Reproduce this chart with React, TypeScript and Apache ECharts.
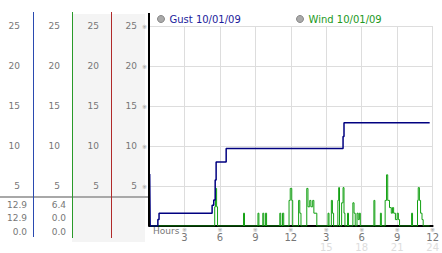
import React, { useEffect, useRef } from "react";
import * as echarts from "echarts";

const FONT = "DejaVu Sans, Noto Sans CJK JP, sans-serif";

const seriesNames = ["Gust 10/01/09", "Wind 10/01/09"];

// [hour, mph] change points (step line)
const gustData: [number, number][] = [
  [0.04, 0], [0.06, 6.5], [0.1, 0], [0.75, 0.8], [0.85, 1.6],
  [5.34, 2.6], [5.48, 3.25], [5.6, 5.75], [5.68, 8.0], [6.53, 9.7],
  [16.42, 11.2], [16.5, 12.9], [23.75, 12.9],
];

const windData: [number, number][] = [
  [0.1, 0], [5.56, 2.4], [5.63, 4.7], [5.72, 2.4], [5.8, 0],
  [8.0, 1.6], [8.08, 0],
  [9.22, 1.6], [9.3, 0],
  [9.63, 1.6], [9.71, 0],
  [9.85, 1.6], [9.95, 0],
  [11.07, 1.6], [11.15, 0],
  [11.3, 1.6], [11.4, 0],
  [11.85, 3.2], [11.95, 4.7], [12.08, 3.2], [12.16, 0],
  [12.66, 3.2], [12.76, 1.6], [12.86, 0],
  [13.35, 4.7], [13.45, 2.4], [13.6, 3.2], [13.7, 2.4], [13.85, 3.2], [13.95, 1.6], [14.2, 0],
  [15.15, 1.6], [15.23, 0],
  [15.43, 3.2], [15.52, 1.6], [15.62, 0],
  [15.98, 3.2], [16.05, 4.8], [16.12, 0],
  [16.3, 2.9], [16.42, 4.8], [16.5, 1.6], [16.58, 0],
  [16.8, 1.6], [16.88, 0],
  [17.25, 2.9], [17.35, 1.6], [17.45, 0],
  [17.6, 1.6], [17.7, 0.8], [17.8, 1.6], [17.88, 0],
  [19.03, 3.2], [19.11, 0],
  [19.58, 1.6], [19.66, 0],
  [19.98, 3.2], [20.1, 6.4], [20.2, 3.2], [20.35, 2.3], [20.5, 1.6], [20.6, 2.3],
  [20.7, 1.6], [20.85, 0.8], [21.0, 1.6], [21.1, 0.8], [21.2, 0],
  [22.22, 1.6], [22.3, 0],
  [22.72, 3.2], [22.78, 4.8], [22.88, 3.2], [22.98, 1.6], [23.1, 0.8], [23.2, 0],
  [23.75, 0],
];

const gustStats = [12.9, 12.9, 0.0];
const windStats = [6.4, 0.0, 0.0];
const statRowsY = [205, 218, 232];

const X_MIN = 0, X_MAX = 24, X_STEP = 3;
const Y_MIN = 0, Y_MAX = 25, Y_STEP = 5;

const panelOffsets = [129, 89, 50, 12];

export default function App() {
  const ref = useRef<HTMLDivElement>(null);
  useEffect(() => {
    if (!ref.current) return;
    const chart = echarts.init(ref.current, null, { renderer: "svg" });

    const extraY = panelOffsets.map((off) => ({
      type: "value" as const,
      min: Y_MIN,
      max: Y_MAX,
      interval: Y_STEP,
      position: "left" as const,
      offset: off,
      axisLine: { show: false },
      axisTick: { show: false },
      splitLine: { show: false },
      axisLabel: {
        margin: 0,
        color: "#777",
        fontSize: 9,
        fontFamily: FONT,
        formatter: (v: number) => (v === 0 ? "" : String(v)),
      },
    }));

    const statTexts: any[] = [];
    statRowsY.forEach((y, i) => {
      statTexts.push({
        type: "text", x: 27, y,
        style: { text: gustStats[i].toFixed(1), fill: "#777", font: `9px ${FONT}`, align: "right", verticalAlign: "middle" },
      });
      statTexts.push({
        type: "text", x: 66, y,
        style: { text: windStats[i].toFixed(1), fill: "#777", font: `9px ${FONT}`, align: "right", verticalAlign: "middle" },
      });
    });

    const legendIcon = { color: "#aaa", borderColor: "#888", borderWidth: 1 };

    chart.setOption({
      animation: false,
      textStyle: { fontFamily: FONT },
      grid: { left: 149, right: 4, top: 26, bottom: 27 },
      legend: [
        {
          left: 157, top: 14, padding: 0, itemWidth: 7, itemHeight: 7,
          selectedMode: false,
          data: [{ name: seriesNames[0], icon: "circle", itemStyle: legendIcon, textStyle: { color: "#1c1c9c" } }],
          textStyle: { fontSize: 10, fontFamily: FONT },
        },
        {
          left: 296, top: 14, padding: 0, itemWidth: 7, itemHeight: 7,
          selectedMode: false,
          data: [{ name: seriesNames[1], icon: "circle", itemStyle: legendIcon, textStyle: { color: "#229922" } }],
          textStyle: { fontSize: 10, fontFamily: FONT },
        },
      ],
      xAxis: {
        type: "value",
        min: X_MIN,
        max: X_MAX,
        interval: X_STEP,
        axisLine: { show: true, lineStyle: { color: "#000", width: 2 } },
        axisTick: { show: false },
        splitLine: { show: true, lineStyle: { color: "#ddd", width: 1 } },
        axisLabel: {
          showMinLabel: false,
          showMaxLabel: true,
          margin: 1,
          formatter: (v: number) => {
            if (v === 0) return "";
            const h = v > 12 ? v - 12 : v;
            let s = `{m|※}\n{a|${h}}`;
            if (v > 12) s += `\n{b|${v}}`;
            return s;
          },
          rich: {
            m: { fontSize: 6, lineHeight: 5, color: "#999", fontFamily: FONT },
            a: { fontSize: 10, lineHeight: 10, color: "#777", fontFamily: FONT },
            b: { fontSize: 10, lineHeight: 10, color: "#ddd", fontFamily: FONT },
          },
        },
      },
      yAxis: [
        {
          type: "value",
          min: Y_MIN,
          max: Y_MAX,
          interval: Y_STEP,
          axisLine: { show: false },
          axisTick: { show: false },
          splitLine: { show: true, lineStyle: { color: "#ddd", width: 1 } },
          axisLabel: {
            margin: 2,
            fontSize: 6,
            color: "#999",
            formatter: (v: number) => (v === 0 ? "" : "※"),
          },
        },
        ...extraY,
      ],
      graphic: [
        { type: "rect", z: -10, shape: { x: 72, y: 14, width: 73, height: 228 }, style: { fill: "#f4f4f4" } },
        { type: "line", z: 5, shape: { x1: 0, y1: 197, x2: 149, y2: 197 }, style: { stroke: "#a8a8a8", lineWidth: 2 } },
        { type: "line", z: 6, shape: { x1: 33.5, y1: 12, x2: 33.5, y2: 237 }, style: { stroke: "#2a4ab0", lineWidth: 1 } },
        { type: "line", z: 6, shape: { x1: 72.5, y1: 12, x2: 72.5, y2: 238 }, style: { stroke: "#2a9a2a", lineWidth: 1 } },
        { type: "line", z: 6, shape: { x1: 111.5, y1: 12, x2: 111.5, y2: 238 }, style: { stroke: "#b02a2a", lineWidth: 1 } },
        { type: "line", z: 6, shape: { x1: 149, y1: 13, x2: 149, y2: 226 }, style: { stroke: "#000", lineWidth: 2 } },
        {
          type: "text", x: 153, y: 231,
          style: { text: "Hours", fill: "#777", font: `9px ${FONT}`, verticalAlign: "middle" },
        },
        ...statTexts,
      ],
      series: [
        {
          name: seriesNames[0],
          type: "line",
          step: "end",
          data: gustData,
          showSymbol: false,
          symbol: "none",
          lineStyle: { color: "#000080", width: 1.5 },
          itemStyle: { color: "#000080" },
          z: 4,
        },
        {
          name: seriesNames[1],
          type: "line",
          step: "end",
          data: windData,
          showSymbol: false,
          symbol: "none",
          lineStyle: { color: "#12a012", width: 1 },
          itemStyle: { color: "#12a012" },
          z: 3,
        },
      ],
    });
    return () => chart.dispose();
  }, []);
  return (
    <div
      ref={ref}
      style={{ position: "fixed", left: 0, top: 0, width: 442, height: 253, background: "#fff" }}
    />
  );
}
